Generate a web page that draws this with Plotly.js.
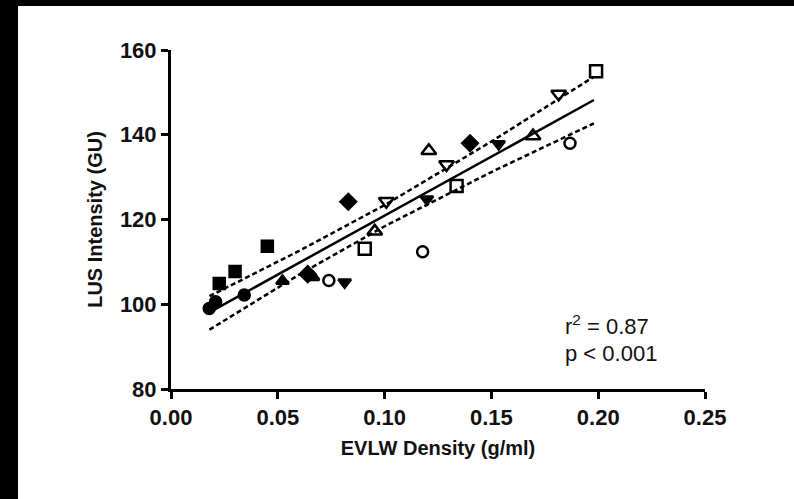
<!DOCTYPE html>
<html>
<head>
<meta charset="utf-8">
<script src="https://cdn.plot.ly/plotly-3.0.1.min.js"></script>
<style>
  html, body { margin: 0; padding: 0; background: #000; width: 794px; height: 499px; overflow: hidden; }
  #chart { position: absolute; left: 18px; top: 6px; width: 776px; height: 493px; background: #fff; }
</style>
</head>
<body>
<div id="chart"></div>
<script>
// Data
const filledCircleX = [0.0179, 0.0209, 0.0343];
const filledCircleY = [99.0, 100.6, 102.2];
const filledSquareX = [0.0226, 0.0300, 0.0451];
const filledSquareY = [104.9, 107.7, 113.7];
const filledTriUpX = [0.0522, 0.0665];
const filledTriUpY = [105.5, 106.4];
const filledDiamondX = [0.0640, 0.0830, 0.1400];
const filledDiamondY = [107.1, 124.2, 138.0];
const openCircleX = [0.0739, 0.1178, 0.1868];
const openCircleY = [105.6, 112.4, 138.0];
const filledTriDownX = [0.0813, 0.1198, 0.1534];
const filledTriDownY = [105.2, 124.8, 137.8];
const openSquareX = [0.0907, 0.1337, 0.1990];
const openSquareY = [113.1, 127.9, 155.0];
const openTriUpX = [0.0954, 0.1207, 0.1695];
const openTriUpY = [117.2, 136.2, 139.7];
const openTriDownX = [0.1008, 0.1290, 0.1815];
const openTriDownY = [124.3, 133.0, 149.6];

const fitX = [0.018, 0.198];
const fitY = [98.1, 148.2];
const bandX = [0.018, 0.06, 0.10, 0.15, 0.198];
const upperY = [101.9, 112.6, 123.4, 138.4, 153.7];
const lowerY = [94.0, 107.0, 118.4, 131.2, 142.7];

const xTicks = [0, 0.05, 0.10, 0.15, 0.20, 0.25];
const xTickText = ['0.00', '0.05', '0.10', '0.15', '0.20', '0.25'];
const yTicks = [80, 100, 120, 140, 160];

function pts(x, y, symbol, size) {
  return {
    x: x, y: y, type: 'scatter', mode: 'markers', showlegend: false,
    marker: { symbol: symbol, size: size || 12, color: '#000', line: { color: '#000', width: 2.5 } },
    cliponaxis: false
  };
}

const traces = [
  { x: bandX, y: upperY, type: 'scatter', mode: 'lines', showlegend: false,
    line: { color: '#000', width: 2.5, dash: '5px,3px' } },
  { x: bandX, y: lowerY, type: 'scatter', mode: 'lines', showlegend: false,
    line: { color: '#000', width: 2.5, dash: '5px,3px' } },
  { x: fitX, y: fitY, type: 'scatter', mode: 'lines', showlegend: false,
    line: { color: '#000', width: 2.5 } },
  pts(filledCircleX, filledCircleY, 'circle', 11),
  pts(filledSquareX, filledSquareY, 'square', 11),
  pts(filledTriUpX, filledTriUpY, 'triangle-up', 11),
  pts(filledDiamondX, filledDiamondY, 'diamond', 12),
  pts(openCircleX, openCircleY, 'circle-open', 11),
  pts(filledTriDownX, filledTriDownY, 'triangle-down', 11),
  pts(openSquareX, openSquareY, 'square-open', 12),
  pts(openTriUpX, openTriUpY, 'triangle-up-open', 13),
  pts(openTriDownX, openTriDownY, 'triangle-down-open', 13)
];

const tickFont = { family: 'Liberation Sans, Arial, sans-serif', size: 22, color: '#111', weight: 'bold' };
const titleFont = { family: 'Liberation Sans, Arial, sans-serif', size: 20, color: '#111', weight: 'bold' };

const layout = {
  width: 776, height: 493,
  margin: { l: 153, r: 89, t: 44, b: 110 },
  paper_bgcolor: '#fff', plot_bgcolor: '#fff',
  showlegend: false,
  xaxis: {
    range: [0, 0.25], tickmode: 'array', tickvals: xTicks, ticktext: xTickText,
    showgrid: false, zeroline: false, showline: true, linecolor: '#000', linewidth: 3,
    ticks: 'outside', ticklen: 7, tickwidth: 3, tickcolor: '#000',
    tickfont: tickFont,
    title: { text: 'EVLW Density (g/ml)', font: titleFont, standoff: 12 }
  },
  yaxis: {
    range: [80, 160], tickmode: 'array', tickvals: yTicks,
    showgrid: false, zeroline: false, showline: true, linecolor: '#000', linewidth: 3,
    ticks: 'outside', ticklen: 7, tickwidth: 3, tickcolor: '#000',
    tickfont: tickFont,
    title: { text: 'LUS Intensity (GU)', font: titleFont, standoff: 12 }
  },
  annotations: [
    { xref: 'paper', yref: 'paper', x: 0.734, y: 0.19, xanchor: 'left', yanchor: 'middle', showarrow: false,
      text: 'r<sup>2</sup> = 0.87', font: { family: 'Liberation Sans, Arial, sans-serif', size: 22, color: '#111' } },
    { xref: 'paper', yref: 'paper', x: 0.734, y: 0.105, xanchor: 'left', yanchor: 'middle', showarrow: false,
      text: 'p < 0.001', font: { family: 'Liberation Sans, Arial, sans-serif', size: 22, color: '#111' } }
  ]
};

Plotly.newPlot('chart', traces, layout, { staticPlot: true, displayModeBar: false });
</script>
</body>
</html>
